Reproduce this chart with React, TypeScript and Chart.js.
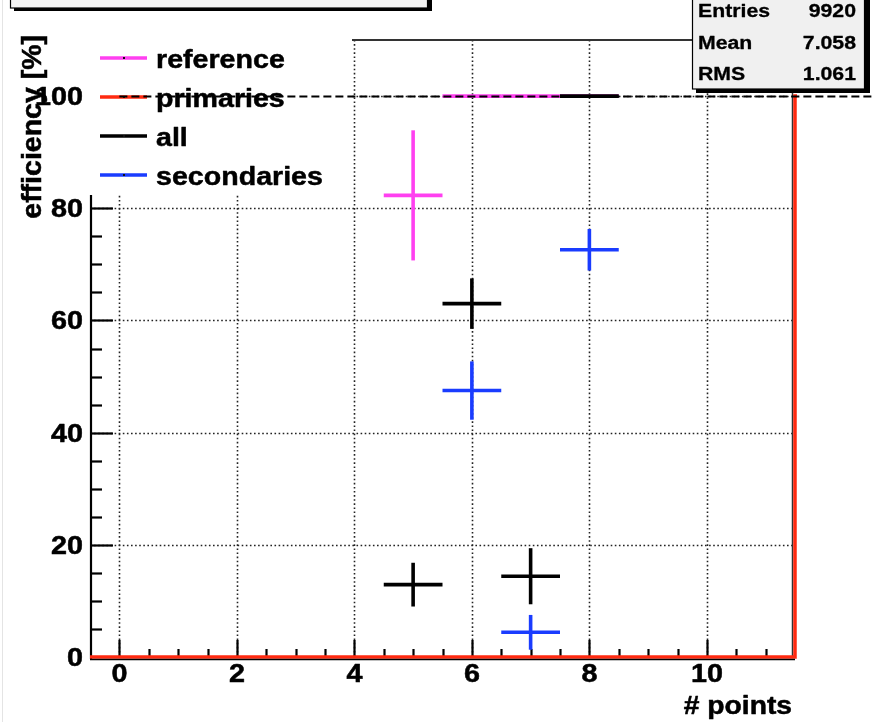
import React, { useEffect, useRef } from 'react';
import { Chart, registerables } from 'chart.js';

Chart.register(...registerables);

// ---------- data ----------
const xTicks = [0, 2, 4, 6, 8, 10];
const yTicks = [0, 20, 40, 60, 80, 100];
const xMin = -0.5;
const xMax = 11.5;
const yMin = 0;
const yMax = 110;
const xMinorStep = 0.5;
const yMinorStep = 5;
const binHalfWidth = 0.5;

const refX = [5, 6, 7, 8];
const refY = [82.3, 100, 100, 100];
const refErr = [11.6, 0, 0, 0];

const allX = [5, 6, 7, 8];
const allY = [12.9, 63.0, 14.4, 100];
const allErr = [3.9, 4.5, 5.0, 0];

const secX = [6, 7, 8];
const secY = [47.5, 4.4, 72.6];
const secErr = [5.2, 3.1, 3.7];

// primaries histogram (underflow, bins 0..11, overflow)
const primX = [-1, 0, 1, 2, 3, 4, 5, 6, 7, 8, 9, 10, 11, 12];
const primY = [0, 0, 0, 0, 0, 0, 0, 0, 0, 0, 0, 0, 0, 100];

const referenceLine = 100;

const legendLabels = ['reference', 'primaries', 'all', 'secondaries'];
const statsLabels = ['Entries', 'Mean', 'RMS'];
const statsValues = ['9920', '7.058', '1.061'];

const xTitle = '# points';
const yTitle = 'efficiency [%]';

// ---------- styles ----------
const MAGENTA = '#ff40f0';
const RED = '#ff2a10';
const BLACK = '#000000';
const BLUE = '#1a3cff';
const legendColors = [MAGENTA, RED, BLACK, BLUE];
const FONT = '"Liberation Sans", Arial, Helvetica, sans-serif';

function drawText(
  ctx: CanvasRenderingContext2D,
  s: string,
  x: number,
  y: number,
  size: number,
  align: CanvasTextAlign,
  sx = 1,
  weight = 0.5
) {
  ctx.save();
  ctx.font = `bold ${size}px ${FONT}`;
  ctx.textAlign = align;
  ctx.textBaseline = 'alphabetic';
  ctx.fillStyle = '#000';
  ctx.strokeStyle = '#000';
  ctx.lineWidth = weight;
  ctx.lineJoin = 'round';
  ctx.translate(x, y);
  ctx.scale(sx, 1);
  ctx.fillText(s, 0, 0);
  if (weight > 0) ctx.strokeText(s, 0, 0);
  ctx.restore();
}

function seg(ctx: CanvasRenderingContext2D, x1: number, y1: number, x2: number, y2: number) {
  ctx.beginPath();
  ctx.moveTo(x1, y1);
  ctx.lineTo(x2, y2);
  ctx.stroke();
}

const rootPlugin = {
  id: 'rootStyle',
  beforeDatasetsDraw(chart: any) {
    const { ctx, chartArea: a } = chart;
    const xs = chart.scales.x;
    const ys = chart.scales.y;
    ctx.save();
    // faint canvas border at left
    ctx.strokeStyle = '#e4e4e4';
    ctx.lineWidth = 1;
    seg(ctx, 2.5, 0, 2.5, 722);

    // dotted grid
    ctx.strokeStyle = '#222';
    ctx.lineWidth = 1.6;
    ctx.setLineDash([1.6, 2.5]);
    for (const v of xTicks) {
      const px = Math.round(xs.getPixelForValue(v)) + 0.5;
      seg(ctx, px, a.top, px, a.bottom);
    }
    for (const v of yTicks) {
      if (v === 0) continue;
      const py = Math.round(ys.getPixelForValue(v)) + 0.5;
      seg(ctx, a.left, py, a.right, py);
    }
    ctx.setLineDash([]);

    // frame top and right
    ctx.strokeStyle = '#333';
    ctx.lineWidth = 2.2;
    seg(ctx, a.left, a.top, a.right, a.top);
    ctx.lineWidth = 1.5;
    seg(ctx, a.right - 2.5, a.top, a.right - 2.5, a.bottom);

    // left axis
    ctx.strokeStyle = '#000';
    ctx.lineWidth = 2.2;
    seg(ctx, a.left + 1, a.top, a.left + 1, a.bottom + 2);

    // x ticks (inward, upward)
    ctx.lineWidth = 2.2;
    for (let v = xMin + xMinorStep; v < xMax - 1e-6; v += xMinorStep) {
      const isMajor = xTicks.some((t) => Math.abs(t - v) < 1e-6);
      const px = Math.round(xs.getPixelForValue(v)) + 0.5;
      const len = isMajor ? 17 : 8;
      seg(ctx, px, a.bottom, px, a.bottom - len);
    }
    // y ticks (inward, rightward)
    for (let v = yMin + yMinorStep; v < yMax - 1e-6; v += yMinorStep) {
      const isMajor = yTicks.some((t) => Math.abs(t - v) < 1e-6);
      const py = Math.round(ys.getPixelForValue(v)) + 0.5;
      const len = isMajor ? 23 : 12;
      seg(ctx, a.left, py, a.left + len, py);
    }
    ctx.restore();
  },
  afterDatasetsDraw(chart: any) {
    const { ctx, chartArea: a } = chart;
    const xs = chart.scales.x;
    const ys = chart.scales.y;
    ctx.save();

    // bottom axis line under the red histogram
    ctx.strokeStyle = '#000';
    ctx.lineWidth = 1.5;
    seg(ctx, a.left, a.bottom + 2.5, a.right, a.bottom + 2.5);

    // error-bar crosses
    chart.data.datasets.forEach((ds: any, i: number) => {
      if (!ds.yErr) return;
      const meta = chart.getDatasetMeta(i);
      ctx.strokeStyle = ds.crossColor;
      ctx.lineWidth = 3.6;
      ctx.lineCap = 'butt';
      meta.data.forEach((el: any, j: number) => {
        const p = ds.data[j];
        const x1 = xs.getPixelForValue(p.x - binHalfWidth);
        const x2 = xs.getPixelForValue(p.x + binHalfWidth);
        seg(ctx, x1, el.y, x2, el.y);
        const e = ds.yErr[j];
        if (e > 0) {
          const y1 = ys.getPixelForValue(p.y - e);
          const y2 = ys.getPixelForValue(p.y + e);
          seg(ctx, el.x, y1, el.x, y2);
        }
      });
    });

    // legend box (white, covers frame)
    ctx.fillStyle = '#fff';
    ctx.fillRect(88, 28, 352 - 88, 195 - 28);
    legendLabels.forEach((lab, i) => {
      const y = 58 + i * 39;
      ctx.strokeStyle = legendColors[i];
      ctx.lineWidth = 3.6;
      seg(ctx, 100, y, 147, y);
      ctx.fillStyle = '#111';
      ctx.fillRect(123, y - 1, 2, 2);
      drawText(ctx, lab, 156, y + 10, 26, 'left', 1.1);
    });

    // dashed 100% line
    ctx.strokeStyle = '#000';
    ctx.lineWidth = 2;
    ctx.setLineDash([8, 4]);
    const y100 = Math.round(ys.getPixelForValue(referenceLine)) + 0.5;
    seg(ctx, xs.getPixelForValue(0), y100, xs.getPixelForValue(14), y100);
    ctx.setLineDash([]);

    // tick labels
    for (const v of yTicks) {
      const py = ys.getPixelForValue(v);
      drawText(ctx, String(v), 83, py + 9, 25, 'right', 1.15);
    }
    for (const v of xTicks) {
      const px = xs.getPixelForValue(v);
      drawText(ctx, String(v), px, 682, 25, 'center', 1.15);
    }

    // axis titles
    drawText(ctx, xTitle, 792, 714, 25, 'right', 1.13);
    ctx.save();
    ctx.translate(41, 35);
    ctx.rotate(-Math.PI / 2);
    ctx.font = `bold 28.5px ${FONT}`;
    ctx.textAlign = 'right';
    ctx.textBaseline = 'alphabetic';
    ctx.fillStyle = '#000';
    ctx.strokeStyle = '#000';
    ctx.lineWidth = 0.5;
    ctx.fillText(yTitle, 0, 0);
    ctx.strokeText(yTitle, 0, 0);
    ctx.restore();

    // title box (cropped at top)
    ctx.fillStyle = '#000';
    ctx.fillRect(14, -10, 418, 21);
    ctx.fillStyle = '#f2f2f2';
    ctx.fillRect(10, -10, 418, 18);
    ctx.strokeStyle = '#000';
    ctx.lineWidth = 1.2;
    ctx.strokeRect(10.5, -10, 417, 18);

    // stats box
    ctx.fillStyle = '#000';
    ctx.fillRect(696, -10, 174, 103);
    ctx.fillStyle = '#f0f0f0';
    ctx.fillRect(692, -10, 173, 99);
    ctx.strokeStyle = '#000';
    ctx.lineWidth = 1.2;
    ctx.strokeRect(692.5, -10, 172, 99);
    statsLabels.forEach((lab, i) => {
      const by = 17 + i * 31.5;
      drawText(ctx, lab, 698, by, 18, 'left', 1.18, 0.3);
      drawText(ctx, statsValues[i], 856, by, 18, 'right', 1.18, 0.3);
    });

    ctx.restore();
  },
};

export default function App() {
  const ref = useRef<HTMLCanvasElement>(null);
  useEffect(() => {
    const canvas = ref.current;
    if (!canvas) return;
    const chart = new Chart(canvas, {
      type: 'scatter',
      data: {
        datasets: [
          {
            type: 'line',
            label: 'primaries',
            data: primX.map((x, i) => ({ x, y: primY[i] })),
            borderColor: RED,
            borderWidth: 3.5,
            stepped: 'middle',
            pointRadius: 0,
            fill: false,
            clip: { left: 0, top: 0, right: 2, bottom: 2 },
          } as any,
          {
            label: 'reference',
            data: refX.map((x, i) => ({ x, y: refY[i] })),
            pointRadius: 0,
            showLine: false,
            yErr: refErr,
            crossColor: MAGENTA,
          } as any,
          {
            label: 'all',
            data: allX.map((x, i) => ({ x, y: allY[i] })),
            pointRadius: 0,
            showLine: false,
            yErr: allErr,
            crossColor: BLACK,
          } as any,
          {
            label: 'secondaries',
            data: secX.map((x, i) => ({ x, y: secY[i] })),
            pointRadius: 0,
            showLine: false,
            yErr: secErr,
            crossColor: BLUE,
          } as any,
        ],
      },
      options: {
        responsive: false,
        animation: false,
        devicePixelRatio: 1,
        events: [],
        layout: { padding: { left: 90, right: 80, top: 40, bottom: 65 } },
        scales: {
          x: { type: 'linear', min: xMin, max: xMax, display: false },
          y: { type: 'linear', min: yMin, max: yMax, display: false },
        },
        plugins: {
          legend: { display: false },
          tooltip: { enabled: false },
        },
      },
      plugins: [rootPlugin],
    });
    return () => chart.destroy();
  }, []);
  return (
    <div style={{ position: 'absolute', left: 0, top: 0, width: 875, height: 722, background: '#fff' }}>
      <canvas ref={ref} width={875} height={722} style={{ display: 'block', width: 875, height: 722 }} />
    </div>
  );
}
